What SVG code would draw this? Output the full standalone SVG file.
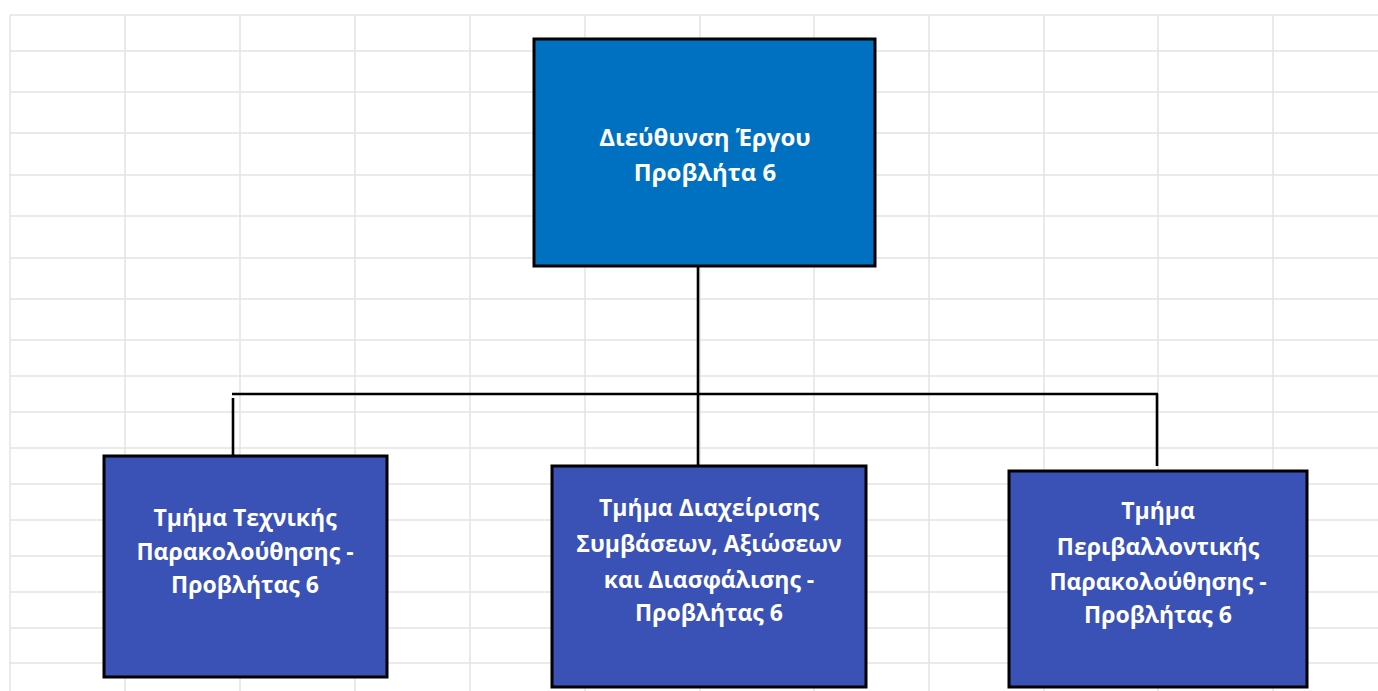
<svg xmlns="http://www.w3.org/2000/svg" width="1378" height="691" viewBox="0 0 1378 691">
<style>
.grid line{stroke:#e3e3e3;stroke-width:1.5}
.conn{stroke:#000;stroke-width:2.6;fill:none}
.top{fill:#0070c0;stroke:#000;stroke-width:3}
.sub{fill:#3a51b5;stroke:#000;stroke-width:3}
.lbl{font-family:"Open Sans","Noto Sans","DejaVu Sans",sans-serif;font-weight:700;font-size:23px;fill:#fff;text-anchor:middle}
.lbl.big{font-size:24px}
</style>
<rect width="1378" height="691" fill="#fff"/>
<g class="grid">
<line x1="10" y1="15" x2="10" y2="691"/>
<line x1="125" y1="15" x2="125" y2="691"/>
<line x1="240" y1="15" x2="240" y2="691"/>
<line x1="355" y1="15" x2="355" y2="691"/>
<line x1="470" y1="15" x2="470" y2="691"/>
<line x1="585" y1="15" x2="585" y2="691"/>
<line x1="700" y1="15" x2="700" y2="691"/>
<line x1="814" y1="15" x2="814" y2="691"/>
<line x1="929" y1="15" x2="929" y2="691"/>
<line x1="1044" y1="15" x2="1044" y2="691"/>
<line x1="1158" y1="15" x2="1158" y2="691"/>
<line x1="1273" y1="15" x2="1273" y2="691"/>
<line x1="10" y1="15" x2="1378" y2="15"/>
<line x1="10" y1="51" x2="1378" y2="51"/>
<line x1="10" y1="92" x2="1378" y2="92"/>
<line x1="10" y1="133" x2="1378" y2="133"/>
<line x1="10" y1="175" x2="1378" y2="175"/>
<line x1="10" y1="216" x2="1378" y2="216"/>
<line x1="10" y1="258" x2="1378" y2="258"/>
<line x1="10" y1="299" x2="1378" y2="299"/>
<line x1="10" y1="340" x2="1378" y2="340"/>
<line x1="10" y1="376" x2="1378" y2="376"/>
<line x1="10" y1="412" x2="1378" y2="412"/>
<line x1="10" y1="448" x2="1378" y2="448"/>
<line x1="10" y1="484" x2="1378" y2="484"/>
<line x1="10" y1="520" x2="1378" y2="520"/>
<line x1="10" y1="556" x2="1378" y2="556"/>
<line x1="10" y1="592" x2="1378" y2="592"/>
<line x1="10" y1="628" x2="1378" y2="628"/>
<line x1="10" y1="663" x2="1378" y2="663"/>
</g>
<g id="connectors">
<line class="conn" x1="698" y1="266" x2="698" y2="466"/>
<line class="conn" x1="232" y1="394" x2="1158" y2="394"/>
<line class="conn" x1="233" y1="398" x2="233" y2="456"/>
<line class="conn" x1="1157" y1="394" x2="1157" y2="466"/>
</g>
<g id="node-top">
<rect class="top" x="534" y="39" width="341" height="227"/>
<text class="lbl big"><tspan x="705" y="146">Διεύθυνση Έργου</tspan><tspan x="705" y="181">Προβλήτα 6</tspan></text>
</g>
<g id="node-tech">
<rect class="sub" x="104" y="456" width="283" height="221"/>
<text class="lbl"><tspan x="245" y="526">Τμήμα Τεχνικής</tspan><tspan x="245" y="560">Παρακολούθησης -</tspan><tspan x="245" y="593">Προβλήτας 6</tspan></text>
</g>
<g id="node-contracts">
<rect class="sub" x="552" y="466" width="314" height="221"/>
<text class="lbl"><tspan x="709" y="516">Τμήμα Διαχείρισης</tspan><tspan x="709" y="552">Συμβάσεων, Αξιώσεων</tspan><tspan x="709" y="588">και Διασφάλισης -</tspan><tspan x="709" y="621">Προβλήτας 6</tspan></text>
</g>
<g id="node-env">
<rect class="sub" x="1009" y="471" width="298" height="216"/>
<text class="lbl"><tspan x="1158" y="519">Τμήμα</tspan><tspan x="1158" y="555">Περιβαλλοντικής</tspan><tspan x="1158" y="590">Παρακολούθησης -</tspan><tspan x="1158" y="623">Προβλήτας 6</tspan></text>
</g>
</svg>
